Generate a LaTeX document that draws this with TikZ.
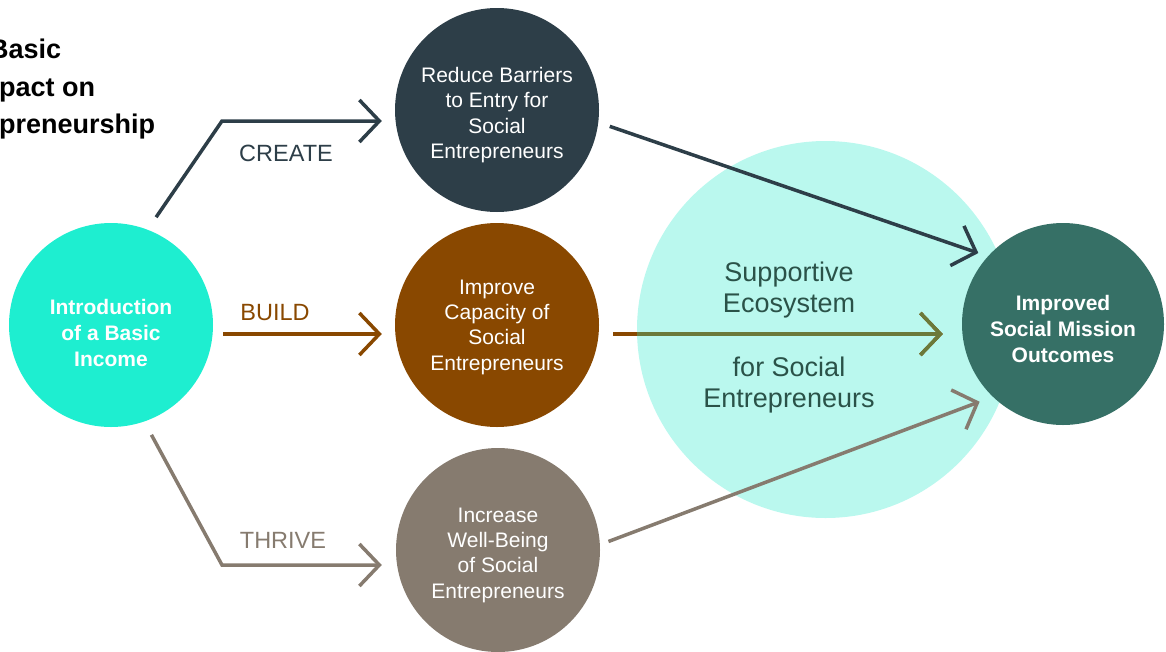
\documentclass[tikz,border=0pt]{standalone}
\usepackage{fontspec}
\setmainfont{Liberation Sans}
\usetikzlibrary{arrows.meta}
\definecolor{cyanC}{RGB}{30,238,208}
\definecolor{darkC}{RGB}{45,62,72}
\definecolor{brownC}{RGB}{137,72,0}
\definecolor{grayC}{RGB}{134,123,111}
\definecolor{ecoC}{RGB}{186,248,238}
\definecolor{outC}{RGB}{54,112,102}
\definecolor{oliveC}{RGB}{107,122,58}
\definecolor{ecotextC}{RGB}{42,82,72}
\tikzset{
  circ/.style={circle, inner sep=0pt, minimum size=204pt},
  ctext/.style={align=center, inner sep=0pt, text=white, font=\fontsize{21}{25.3}\selectfont},
  btext/.style={align=center, inner sep=0pt, text=white, font=\bfseries\fontsize{21}{26.3}\selectfont},
  lbl/.style={inner sep=0pt, font=\fontsize{23.5}{28}\selectfont},
  conn/.style={line width=3.5pt, -{Straight Barb[length=20pt,width=42pt]}},
  titletext/.style={anchor=base west, inner sep=0pt, font=\bfseries\fontsize{27}{32}\selectfont},
  ecotext/.style={align=center, inner sep=0pt, text=ecotextC, font=\fontsize{27}{31.5}\selectfont}
}
\begin{document}
\begin{tikzpicture}[x=1pt,y=-1pt]
\useasboundingbox (0,0) rectangle (1166,651);
% ecosystem circle
\node[circle, fill=ecoC, inner sep=0pt, minimum size=377pt] (eco) at (825.5,329.5) {};
\node[ecotext] (eco1) at (789,290) {Supportive\\Ecosystem};
\node[ecotext] (eco2) at (789,385) {for Social\\Entrepreneurs};
% title (cut off at left edge)
\node[titletext] (t1) at (-11,58) {Basic};
\node[titletext] (t2) at (-1,96) {pact on};
\node[titletext] (t3) at (-1,133) {preneurship};
% circles
\node[circ, fill=cyanC] (intro) at (111,325) {};
\node[circ, fill=darkC] (top) at (497,110) {};
\node[circ, fill=brownC] (mid) at (497,325) {};
\node[circ, fill=grayC] (bot) at (498,550) {};
\node[circ, fill=outC, minimum size=202pt] (out) at (1063,324) {};
% circle texts
\node[btext] (introT) at ([yshift=-8pt]intro.center) {Introduction\\of a Basic\\Income};
\node[ctext] (topT) at ([yshift=-5pt]top.center) {Reduce Barriers\\to Entry for\\Social\\Entrepreneurs};
\node[ctext] (midT) at ([yshift=-2pt]mid.center) {Improve\\Capacity of\\Social\\Entrepreneurs};
\node[ctext] (botT) at ([yshift=-5pt]bot.center) {Increase\\Well-Being\\of Social\\Entrepreneurs};
\node[btext] (outT) at ([yshift=-5pt]out.center) {Improved\\Social Mission\\Outcomes};
% labels
\node[lbl, text=darkC] (lcreate) at (286,153) {CREATE};
\node[lbl, text=brownC] (lbuild) at (275,313) {BUILD};
\node[lbl, text=grayC] (lthrive) at (283,540) {THRIVE};
% bend points
\coordinate (kc) at (222,121);
\coordinate (kt) at (222,565);
% left connectors
\draw[conn, darkC, shorten <=15pt] (intro.69) -- (kc) -- ([xshift=-13pt,yshift=-11pt]top.west);
\draw[conn, brownC] ([xshift=10pt,yshift=-9pt]intro.east) -- ([xshift=-13pt,yshift=-9pt]mid.west);
\draw[conn, grayC, shorten <=15pt] (intro.-71) -- (kt) -- ([xshift=-14pt,yshift=-15pt]bot.west);
% right connectors
\draw[conn, darkC, shorten <=12pt, shorten >=10pt] (top.-7) -- (out.138);
\draw[conn, brownC] ([xshift=14pt,yshift=-9pt]mid.east) -- ([xshift=-19pt,yshift=-10pt]out.west);
\begin{scope}
\clip (eco.center) circle (188.5pt);
\draw[conn, oliveC] ([xshift=14pt,yshift=-9pt]mid.east) -- ([xshift=-19pt,yshift=-10pt]out.west);
\end{scope}
\draw[conn, grayC, shorten <=9pt, shorten >=14pt] (bot.3) -- (out.-134);
\end{tikzpicture}
\end{document}
